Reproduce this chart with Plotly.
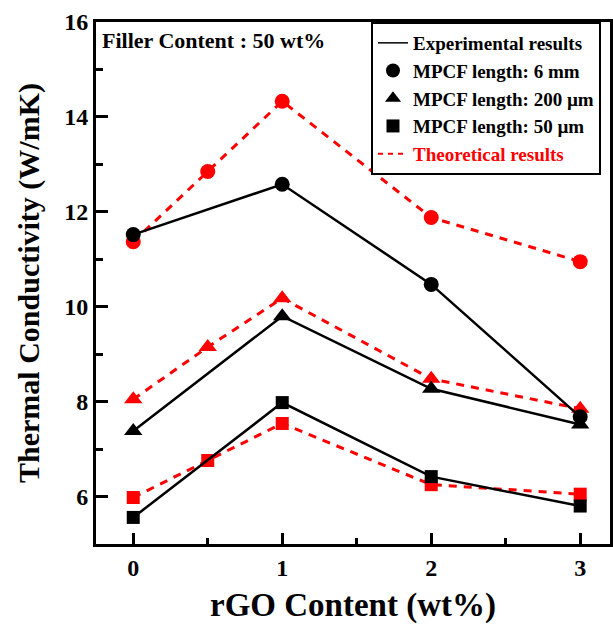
import plotly.graph_objects as go

# rGO content (wt%)
x_exp = [0, 1, 2, 3]
x_th = [0, 0.5, 1, 2, 3]

# Experimental results
exp_6mm = [11.52, 12.58, 10.47, 7.68]
exp_200um = [7.38, 9.80, 8.27, 7.52]
exp_50um = [5.56, 7.98, 6.42, 5.80]

# Theoretical results
th_6mm = [11.37, 12.85, 14.33, 11.88, 10.95]
th_200um = [8.05, 9.15, 10.18, 8.48, 7.85]
th_50um = [5.98, 6.76, 7.54, 6.25, 6.05]

xticks = [0, 1, 2, 3]
yticks = [6, 8, 10, 12, 14, 16]

FONT = "Liberation Serif"
RED = "#FF0000"
BLACK = "#000000"

fig = go.Figure()

groups = [
    ("circle", th_6mm, exp_6mm, 15),
    ("triangle-up", th_200um, exp_200um, 16),
    ("square", th_50um, exp_50um, 13),
]

for sym, th, ex, sz in groups:
    fig.add_trace(go.Scatter(
        x=x_th, y=th, mode="lines+markers", showlegend=False,
        line=dict(color=RED, width=3, dash="8px,7px"),
        marker=dict(symbol=sym, size=sz, color=RED, line=dict(width=0)),
    ))
for sym, th, ex, sz in groups:
    fig.add_trace(go.Scatter(
        x=x_exp, y=ex, mode="lines+markers", showlegend=False,
        line=dict(color=BLACK, width=2.5),
        marker=dict(symbol=sym, size=sz, color=BLACK, line=dict(width=0)),
    ))

# legend entries
fig.add_trace(go.Scatter(x=[None], y=[None], mode="lines",
                         line=dict(color=BLACK, width=1.5),
                         name="<b>Experimental results</b>"))
fig.add_trace(go.Scatter(x=[None], y=[None], mode="markers",
                         marker=dict(symbol="circle", size=14, color=BLACK),
                         name="<b>MPCF length: 6 mm</b>"))
fig.add_trace(go.Scatter(x=[None], y=[None], mode="markers",
                         marker=dict(symbol="triangle-up", size=14, color=BLACK),
                         name="<b>MPCF length: 200 µm</b>"))
fig.add_trace(go.Scatter(x=[None], y=[None], mode="markers",
                         marker=dict(symbol="square", size=13, color=BLACK),
                         name="<b>MPCF length: 50 µm</b>"))
fig.add_trace(go.Scatter(x=[None], y=[None], mode="lines",
                         line=dict(color=RED, width=2, dash="5px,5px"),
                         name="<b><span style='color:#FF0000'>Theoretical results</span></b>"))

fig.add_annotation(
    text="<b>Filler Content : 50 wt%</b>",
    xref="paper", yref="paper", x=0.008, y=0.993,
    xanchor="left", yanchor="top", showarrow=False,
    font=dict(family=FONT, size=22, color=BLACK),
)

axis_common = dict(
    showline=True, linecolor=BLACK, linewidth=3,
    ticks="inside", tickcolor=BLACK, tickwidth=3,
    showgrid=False, zeroline=False,
    tickfont=dict(family=FONT, size=24, color=BLACK, weight="bold"),
)

fig.update_xaxes(
    **axis_common,
    range=[-0.25, 3.2], tickvals=xticks, ticklen=11,
    minor=dict(ticks="inside", dtick=0.5, ticklen=6, tickwidth=3, tickcolor=BLACK),
    mirror=True,
    title=dict(text="<b>rGO Content (wt%)</b>",
               font=dict(family=FONT, size=33, color=BLACK), standoff=14),
)
fig.update_yaxes(
    **axis_common,
    range=[5, 16], tickvals=yticks, ticklen=12,
    minor=dict(ticks="inside", dtick=1, ticklen=7, tickwidth=3, tickcolor=BLACK),
    mirror=True,
    title=dict(text="<b>Thermal Conductivity (W/mK)</b>",
               font=dict(family=FONT, size=30, color=BLACK), standoff=16),
)

fig.update_layout(
    width=613, height=629,
    margin=dict(l=96, r=0, t=22, b=85),
    plot_bgcolor="white", paper_bgcolor="white",
    font=dict(family=FONT, color=BLACK),
    legend=dict(
        x=0.535, y=1.0, xanchor="left", yanchor="top",
        bgcolor="white", bordercolor=BLACK, borderwidth=2,
        font=dict(family=FONT, size=19, color=BLACK),
        itemwidth=30, tracegroupgap=0,
    ),
)

fig.write_html("out.html")
